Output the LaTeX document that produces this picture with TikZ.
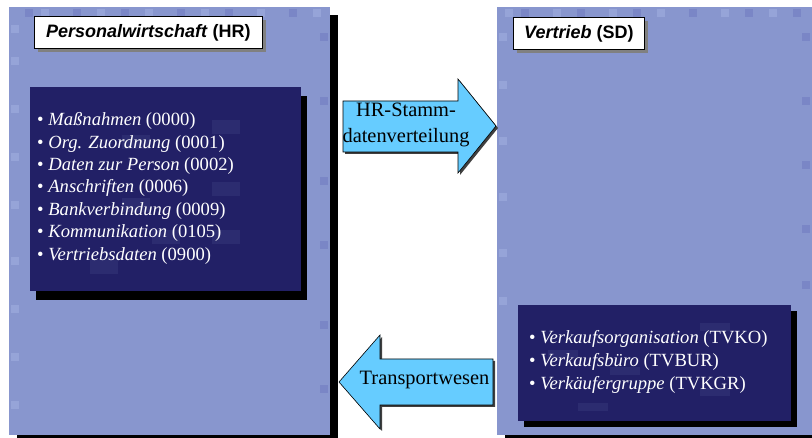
\documentclass[tikz,border=0pt]{standalone}
\usepackage{fontspec}
\setmainfont{Liberation Serif}
\newfontfamily\arialfont{Liberation Sans}
\usetikzlibrary{shadows}
\definecolor{panelblue}{RGB}{136,150,206}
\definecolor{paneldark}{RGB}{122,134,198}
\definecolor{panellight}{RGB}{150,164,216}
\definecolor{boxnavy}{RGB}{34,32,102}
\definecolor{boxfaint}{RGB}{44,44,112}
\definecolor{arrowblue}{RGB}{102,204,255}

\tikzset{
	panel/.style={fill=panelblue, anchor=north west, inner sep=0pt, outer sep=0pt,
		drop shadow={shadow xshift=8pt, shadow yshift=-8pt, fill=black, opacity=1}},
	navybox/.style={fill=boxnavy, anchor=north west, inner sep=0pt, outer sep=0pt},
	titlebox/.style={draw=black, line width=0.8pt, fill=white, anchor=north west, inner sep=0pt,
		font=\arialfont\fontsize{18}{20}\selectfont,
		drop shadow={shadow xshift=4pt, shadow yshift=-4pt, fill=black!50, opacity=1}},
	listtext/.style={text=white, anchor=base west, inner sep=0pt, font=\fontsize{18.6}{22}\selectfont},
	blockarrow/.style={draw=black, line width=0.6pt, fill=arrowblue, line join=miter,
		drop shadow={shadow xshift=2pt, shadow yshift=-2pt, fill=black!75, opacity=1}},
	arrowtext/.style={inner sep=0pt, font=\fontsize{20.4}{26}\selectfont}
}

\begin{document}
\begin{tikzpicture}[x=1pt, y=-1pt]
		\useasboundingbox (0,0) rectangle (812,438);

		% the two modules
		\node[panel, minimum width=321pt, minimum height=428pt] (hr) at (9,7) {};
		\node[panel, minimum width=315pt, minimum height=428pt] (sd) at (497,7) {};

		% pattern of small squares on the panels
		\foreach \x in {25,73,121,177,225,289}
			\fill[paneldark] (\x,9) rectangle +(8,8);
		\foreach \x in {41,97,145,201,257,313}
			\fill[panellight] (\x,9) rectangle +(8,8);
		\foreach \y in {25,57,105,153,201,257,305,353,401}
			\fill[panellight] (11,\y) rectangle +(8,8);
		\foreach \y in {33,97,177,241,321,385}
			\fill[paneldark] (320,\y) rectangle +(8,8);
		\foreach \x in {521,577,633,689,745,793}
			\fill[paneldark] (\x,9) rectangle +(8,8);
		\foreach \x in {505,553,609,657,721,769}
			\fill[panellight] (\x,9) rectangle +(8,8);
		\foreach \y in {33,81,137,193,249,297}
			\fill[panellight] (499,\y) rectangle +(8,8);
		\foreach \y in {33,97,161,225,281}
			\fill[paneldark] (802,\y) rectangle +(8,8);

		% content boxes
		\node[navybox, minimum width=271pt, minimum height=204pt,
			drop shadow={shadow xshift=6pt, shadow yshift=-9pt, fill=black, opacity=1}] (hrbox) at (30,87) {};
		\node[navybox, minimum width=273pt, minimum height=116pt,
			drop shadow={shadow xshift=6pt, shadow yshift=-6pt, fill=black, opacity=1}] (sdbox) at (518,305) {};

		% faint squares inside the boxes
		\foreach \x/\y in {212/120, 122/135, 212/182, 122/198, 152/230, 212/230, 90/260}
			\fill[boxfaint] (\x,\y) rectangle +(28,14);
		\foreach \x/\y in {700/323, 548/350, 610/367, 578/403, 700/388}
			\fill[boxfaint] (\x,\y) rectangle +(30,8);

		% titles
		\node[titlebox, minimum width=228pt, minimum height=32pt] (hrtitle) at (34,16)
			{\textbf{\textit{Personalwirtschaft}} \textbf{(HR)}};
		\node[titlebox, minimum width=131pt, minimum height=32pt] (sdtitle) at (513,17)
			{\textbf{\textit{Vertrieb}} \textbf{(SD)}};

		% infotypes
		\foreach \name/\code [count=\i] in {Maßnahmen/0000, Org. Zuordnung/0001, Daten zur Person/0002,
				Anschriften/0006, Bankverbindung/0009, Kommunikation/0105, Vertriebsdaten/0900}
			\node[listtext] (hritem\i) at (37,{125.7+22.4*(\i-1)}) {\textbullet\ \textit{\name} (\code)};

		% organisational units
		\foreach \name/\code [count=\i] in {Verkaufsorganisation/TVKO, Verkaufsbüro/TVBUR, Verkäufergruppe/TVKGR}
			\node[listtext] (sditem\i) at (529,{344+23*(\i-1)}) {\textbullet\ \textit{\name} (\code)};

		% block arrows
		\draw[blockarrow] (343,101) -- (458,101) -- (458,79) -- (496,126) -- (458,173)
			-- (458,152) -- (343,152) -- cycle;
		\node[arrowtext, align=center] (hrsend) at (406,125.3) {HR-Stamm-\\datenverteilung};

		\draw[blockarrow] (493,359) -- (380,359) -- (380,335) -- (339,382) -- (380,429)
			-- (380,405) -- (493,405) -- cycle;
		\node[arrowtext, anchor=base] (transport) at (424.5,385) {Transportwesen};
	\end{tikzpicture}
\end{document}
